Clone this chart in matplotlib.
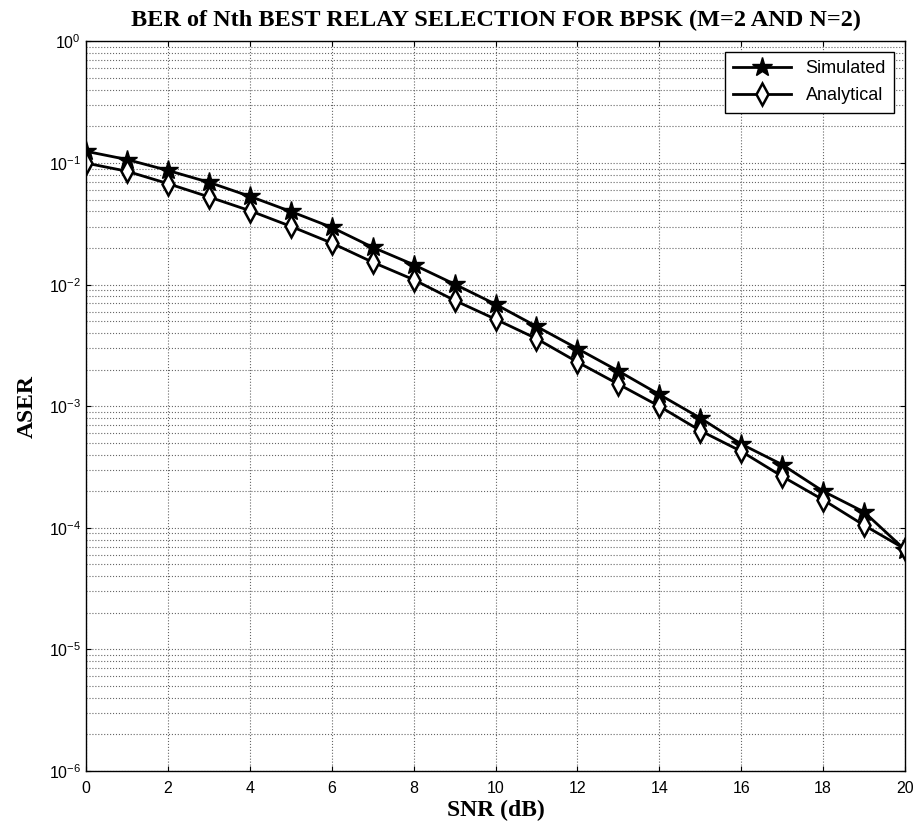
import matplotlib
matplotlib.use("Agg")
import matplotlib.pyplot as plt
from matplotlib.ticker import FixedLocator, NullFormatter

# SNR values in dB
snr = list(range(0, 21))

# values
simulated = [0.125, 0.107, 0.087, 0.0695, 0.0533, 0.040, 0.0296, 0.0203, 0.0146, 0.0101,
             0.0069, 0.00454, 0.00298, 0.00195, 0.00125, 0.00080, 0.000489, 0.000331,
             0.000200, 0.000135, 0.000066]
analytical = [0.100, 0.0857, 0.0678, 0.0527, 0.0406, 0.0302, 0.0220, 0.0153, 0.0110, 0.00743,
              0.0052, 0.0036, 0.00231, 0.00152, 0.00100, 0.00063, 0.000426, 0.000265,
              0.000170, 0.000105, 0.000067]

plt.rcParams['font.family'] = ['Liberation Sans', 'DejaVu Sans']

fig = plt.figure(figsize=(9.17, 8.3), dpi=100)
ax = fig.add_axes([0.0938, 0.0711, 0.8931, 0.8789])

ax.semilogy(snr, simulated, color="black", linewidth=2, marker="*", markersize=15,
            label="Simulated")
ax.semilogy(snr, analytical, color="black", linewidth=2, marker="d", markersize=11,
            markerfacecolor="white", markeredgewidth=1.8, label="Analytical")

ax.set_xlim(0, 20)
ax.set_ylim(1e-6, 1e0)
ax.set_xticks(range(0, 21, 2))
# only decades inside the view, so no hidden labels
decades = [10.0 ** p for p in range(-6, 1)]
ax.yaxis.set_major_locator(FixedLocator(decades))
minors = [m * 10.0 ** p for p in range(-6, 0) for m in range(2, 10)]
ax.yaxis.set_minor_locator(FixedLocator(minors))
ax.yaxis.set_minor_formatter(NullFormatter())

ax.grid(True, which="major", color="#666666", linestyle=":", linewidth=0.8)
ax.grid(True, which="minor", axis="y", color="#666666", linestyle=":", linewidth=0.8)
ax.tick_params(which="both", direction="in", top=True, right=True, labelsize=11.5)
ax.tick_params(axis="x", pad=7)
ax.tick_params(which="minor", length=0)
for s in ax.spines.values():
    s.set_linewidth(1.0)

serif = ['Liberation Serif', 'DejaVu Serif']
ax.set_title("BER of Nth BEST RELAY SELECTION FOR BPSK (M=2 AND N=2)",
             fontfamily=serif, fontweight="bold", fontsize=17.5, pad=11)
ax.set_xlabel("SNR (dB)", fontfamily=serif, fontweight="bold", fontsize=17, labelpad=3)
ax.set_ylabel("ASER", fontfamily=serif, fontweight="bold", fontsize=17, labelpad=8)

leg = ax.legend(loc="upper right", fontsize=13, fancybox=False, framealpha=1,
                edgecolor="black", handlelength=3.2, borderaxespad=0.6,
                labelspacing=0.55, borderpad=0.45)
leg.get_frame().set_linewidth(1.0)

fig.savefig("out.png", dpi=100)
